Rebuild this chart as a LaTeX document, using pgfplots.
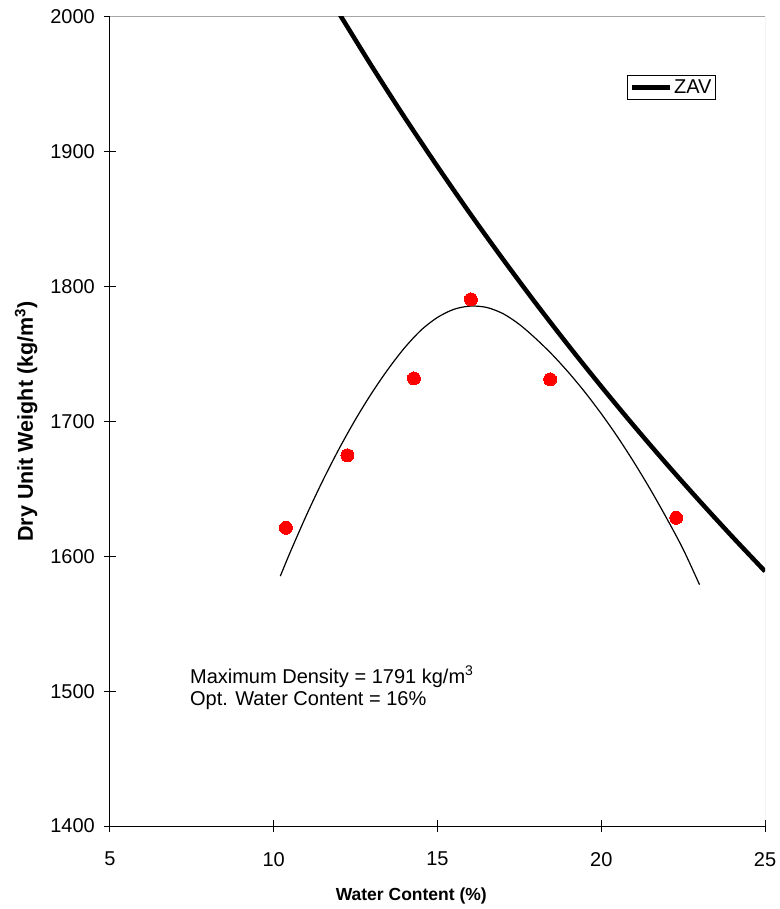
\documentclass[border=0pt]{standalone}
\usepackage{fontspec}
\setmainfont{Liberation Sans}
\usepackage{pgfplots}
\pgfplotsset{compat=1.18}
\begin{document}
\begin{tikzpicture}[x=1pt,y=1pt]
\useasboundingbox (-110,-83) rectangle (669,826);
\begin{axis}[
  at={(0,0)}, anchor=south west,
  scale only axis, width=655pt, height=809pt,
  xmin=5, xmax=25, ymin=1400, ymax=2000,
  xtick={5,10,15,20,25},
  ytick={1400,1500,1600,1700,1800,1900,2000},
  minor tick num=0,
  axis x line*=bottom, axis y line*=left,
  axis line style={black, line width=1pt, -},
  tick align=center, major tick length=12pt,
  tick style={black, line width=1pt},
  /pgf/number format/assume math mode=true,
  /pgf/number format/1000 sep={},
  every tick label/.append style={font=\fontsize{20}{20}\selectfont, inner sep=0pt},
  every y tick label/.append style={anchor=east, xshift=-9pt},
  every x tick label/.append style={anchor=north, yshift=-20pt},
  xlabel={\textbf{Water Content (\%)}},
  ylabel={\textbf{Dry Unit Weight (kg/m\textsuperscript{3})}},
  xlabel style={font=\fontsize{17.5}{17.5}\selectfont, at={([yshift=-74pt]axis description cs:0.46,0)}, anchor=base},
  ylabel style={font=\fontsize{21.5}{21.5}\selectfont, at={([xshift=-77pt]axis description cs:0,0.5)}, anchor=base, rotate=0},
  legend style={at={(0.925,0.928)}, anchor=north east, draw=black, line width=0.8pt,
    fill=white, font=\fontsize{20}{20}\selectfont, inner sep=2pt,
    /tikz/every even column/.append style={column sep=0pt}},
  legend image code/.code={\draw[#1, line width=4.5pt] (0pt,0pt) -- (38pt,0pt);},
  clip=true,
]
\draw[gray!70, line width=1pt] (rel axis cs:0,1) -- (rel axis cs:1,1) -- (rel axis cs:1,0);
% ZAV curve
\addplot[black, line width=4.5pt, smooth] coordinates {
 (11.9,2006.6) (12,2002.5) (13,1963.2) (14,1925.4) (15,1889.1) (16,1854.0)
 (17,1820.3) (18,1787.7) (19,1756.3) (20,1726.0) (21,1696.7) (22,1668.4)
 (23,1641.1) (24,1614.6) (25,1588.9)};
\addlegendentry{ZAV}
% trend line
\addplot[black, line width=1.2pt, smooth, forget plot] coordinates {
 (10.2,1585.3) (10.5,1602.9) (11,1630.6) (11.5,1656.3) (12,1680.0) (12.5,1701.7)
 (13,1721.4) (13.5,1739.1) (14,1754.8) (14.5,1767.8) (15,1777.2) (15.5,1783.2)
 (16,1785.6) (16.5,1784.6) (17,1780.0) (17.5,1772.0) (18,1761.5) (18.5,1749.7)
 (19,1736.4) (19.5,1721.8) (20,1705.8) (20.5,1688.5) (21,1669.7) (21.5,1649.6)
 (22,1628.1) (22.5,1605.3) (23,1579.0)};
% data
\addplot[only marks, mark=*, mark size=6.5pt, mark options={fill=red, draw=red, line width=0pt}, forget plot] coordinates {
 (10.37,1621.2) (12.25,1674.9) (14.28,1732) (16.02,1790.6) (18.44,1731.3) (22.29,1628.6)};
\node[anchor=base west, align=left, font=\fontsize{20}{22}\selectfont, inner sep=0pt] at (axis cs:7.44,1489.7)
  {Maximum Density = 1791 kg/m\textsuperscript{3}\\Opt. Water Content = 16\%};
\end{axis}
\end{tikzpicture}
\end{document}
